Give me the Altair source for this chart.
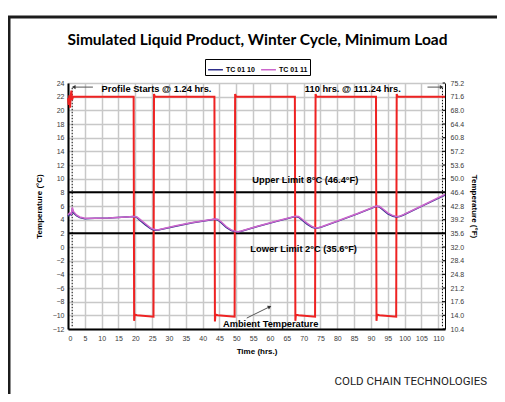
import altair as alt
import pandas as pd

# ---------------- data ----------------
prod_time = [0, 0.5, 1.0, 1.3, 1.6, 2.5, 3.5, 5, 8, 12, 16, 19.6, 20.5, 21.5, 23, 24.5, 25.5, 26.5, 27.5,
             32, 37, 43.6, 44.5, 45.5, 47, 48.5, 49.6, 50.5, 51.5, 56, 62, 67.5, 68.5, 69.5, 71, 72.5,
             73.6, 74.5, 75.5, 80, 86, 91.6, 92.5, 93.5, 95, 96.5, 97.6, 98.5, 99.5, 105, 112]
tc_01_11 = [4.7, 5.0, 4.8, 5.8, 5.2, 4.7, 4.4, 4.2, 4.2, 4.25, 4.35, 4.45, 4.4, 4.0, 3.4, 2.8, 2.6, 2.5, 2.6,
            3.1, 3.6, 4.1, 4.05, 3.7, 3.0, 2.5, 2.3, 2.25, 2.35, 3.0, 3.8, 4.5, 4.45, 4.1, 3.5, 3.0,
            2.8, 2.85, 3.0, 3.8, 4.9, 6.0, 5.95, 5.6, 5.0, 4.6, 4.45, 4.5, 4.7, 6.0, 7.7]
tc_01_10 = [4.5, 4.8, 4.7, 5.5, 5.0, 4.6, 4.3, 4.15, 4.2, 4.25, 4.35, 4.45, 4.3, 3.85, 3.25, 2.7, 2.5, 2.45, 2.55,
            3.05, 3.55, 4.05, 3.95, 3.55, 2.85, 2.4, 2.25, 2.2, 2.3, 2.95, 3.75, 4.45, 4.35, 3.95, 3.35, 2.9,
            2.75, 2.8, 2.95, 3.75, 4.85, 5.95, 5.85, 5.45, 4.85, 4.5, 4.4, 4.45, 4.65, 5.95, 7.6]

amb_time = [0, 0.2, 0.4, 0.6, 0.8, 1.0, 1.2, 1.5, 19.5, 19.65, 19.8, 20.5, 25.4, 25.55, 25.8,
            43.5, 43.65, 43.8, 44.5, 49.5, 49.65, 49.9, 67.4, 67.55, 67.7, 68.5, 73.4, 73.55, 73.8,
            91.5, 91.65, 91.8, 92.5, 97.5, 97.65, 97.9, 112]
amb_temp = [21.8, 20.8, 22.2, 20.4, 22.0, 22.9, 21.5, 22.0, 22.0, -10.8, -9.9, -10.0, -10.2, 22.4, 22.0,
            22.0, -10.9, -9.9, -10.0, -10.2, 22.4, 22.0, 22.0, -10.8, -9.9, -10.0, -10.2, 22.4, 22.0,
            22.0, -10.8, -9.9, -10.0, -10.2, 22.4, 22.0, 22.0]

limit_vals = [8, 2]
marker_times = [1.24, 111.24]

x_ticks = list(range(0, 111, 5))
c_ticks = list(range(-12, 25, 2))
f_ticks = [round(10.4 + 3.6 * i, 1) for i in range(19)]

ann_labels = ["Profile Starts @ 1.24 hrs.", "110 hrs. @ 111.24 hrs.",
              "Upper Limit 8°C (46.4°F)", "Lower Limit 2°C (35.6°F)", "Ambient Temperature"]
ann_t = [26.3, 84.6, 70.5, 70.0, 60.2]
ann_c = [23.1, 23.1, 9.8, -0.3, -11.25]

arrow_t = [7.4, 106.8, 53.1]
arrow_c = [23.4, 23.4, -10.4]
arrow_t2 = [1.7, 111.0, 59.9]
arrow_c2 = [23.4, 23.4, -8.75]
arrow_angle = [270, 90, 64]

series_names = ["TC 01 10", "TC 01 11"]
series_colors = ["#2e2e8a", "#cc66cc"]

# ---------------- tables ----------------
prod_df = pd.concat([
    pd.DataFrame({"t": prod_time, "c": tc_01_10, "s": series_names[0]}),
    pd.DataFrame({"t": prod_time, "c": tc_01_11, "s": series_names[1]}),
])
amb_df = pd.DataFrame({"t": amb_time, "c": amb_temp})
lim_df = pd.DataFrame({"c": limit_vals, "t0": [0, 0], "t1": [112, 112]})
mark_df = pd.DataFrame({"t": marker_times, "c0": [-11.6, -11.6], "c1": [23.5, 23.5]})
rtick_df = pd.DataFrame({"c": c_ticks, "t0": [111.3] * len(c_ticks), "t1": [112] * len(c_ticks)})
ann_df = pd.DataFrame({"t": ann_t, "c": ann_c, "label": ann_labels})
arr_df = pd.DataFrame({"t": arrow_t, "c": arrow_c, "t2": arrow_t2, "c2": arrow_c2, "a": arrow_angle})
f_df = pd.DataFrame({"f": [10.4, 75.2]})

W, H = 377, 246
AX_FONT = "Liberation Sans"

xs = alt.Scale(domain=[0, 112], nice=False, zero=False)
ys = alt.Scale(domain=[-12, 24], nice=False, zero=False)

x_axis = alt.Axis(values=x_ticks, title="Time (hrs.)", grid=True, gridColor="#c8c8c8", gridWidth=1.5,
                  domainColor="black", domainWidth=2, ticks=False, labelPadding=5,
                  labelFontSize=7, labelColor="#3a3a3a", labelFont=AX_FONT,
                  titleFont=AX_FONT, titleFontSize=8, titleFontWeight="bold", titlePadding=6)
y_axis = alt.Axis(values=c_ticks, title="Temperature (°C)", grid=True, gridColor="#c8c8c8", gridWidth=1.5,
                  domainColor="black", domainWidth=2, ticks=False, labelPadding=4,
                  labelFontSize=7, labelColor="#3a3a3a", labelFont=AX_FONT,
                  titleFont=AX_FONT, titleFontSize=8, titleFontWeight="bold", titlePadding=9)


def X(field):
    return alt.X(field, type="quantitative", scale=xs, axis=x_axis, title="Time (hrs.)")


def Y(field):
    return alt.Y(field, type="quantitative", scale=ys, axis=y_axis, title="Temperature (°C)")


limits = alt.Chart(lim_df).mark_rule(color="black", strokeWidth=2).encode(
    x=X("t0"), x2="t1:Q", y=Y("c"),
)

markers = alt.Chart(mark_df).mark_rule(color="black", strokeWidth=1, strokeDash=[1.5, 1.5]).encode(
    x=X("t"), y=Y("c0"), y2="c1:Q",
)

rticks = alt.Chart(rtick_df).mark_rule(color="black", strokeWidth=1).encode(
    x=X("t0"), x2="t1:Q", y=Y("c"),
)

ambient = alt.Chart(amb_df).mark_line(color="#ee2222", strokeWidth=2).encode(
    x=X("t"), y=Y("c"), order="t:Q",
)

product = alt.Chart(prod_df).mark_line(strokeWidth=1.5).encode(
    x=X("t"), y=Y("c"),
    color=alt.Color("s:N", scale=alt.Scale(domain=series_names, range=series_colors),
                    legend=alt.Legend(title=None, orient="none", legendX=137, legendY=-24,
                                      direction="horizontal", strokeColor="black", fillColor="white",
                                      padding=2, symbolType="stroke", symbolSize=220,
                                      symbolStrokeWidth=1.5, labelFont=AX_FONT, labelFontSize=7,
                                      labelFontWeight="bold", columnPadding=3, labelOffset=2)),
    order="t:Q",
)

arrows = alt.Chart(arr_df).mark_rule(color="#555", strokeWidth=1).encode(
    x=X("t"), y=Y("c"), x2="t2:Q", y2="c2:Q",
)
heads = alt.Chart(arr_df).mark_point(shape="triangle-up", filled=True, color="#333", size=18, opacity=1).encode(
    x=X("t2"), y=Y("c2"), angle=alt.Angle("a:Q", scale=None),
)

annotations = alt.Chart(ann_df).mark_text(font=AX_FONT, fontSize=9.3, fontWeight="bold", color="black").encode(
    x=X("t"), y=Y("c"), text="label:N",
)

title_df = pd.DataFrame({"txt": ["Simulated Liquid Product, Winter Cycle, Minimum Load"]})
title = alt.Chart(title_df).mark_text(font="Lato", fontSize=15.5, fontWeight="bold", color="black",
                                       baseline="middle").encode(
    x=alt.value(W / 2 + 1), y=alt.value(-43), text="txt:N")

footer_df = pd.DataFrame({"txt": ["COLD CHAIN TECHNOLOGIES"]})
footer = alt.Chart(footer_df).mark_text(font="Liberation Sans Narrow, Roboto, sans-serif",
                                         fontSize=11.5, color="#222", align="right", baseline="middle").encode(
    x=alt.value(419), y=alt.value(299), text="txt:N")

frame_df = pd.DataFrame({"k": [0]})
frame = alt.Chart(frame_df).mark_rect(fill=None, filled=False, stroke="#1c1c1c", strokeWidth=3).encode(
    x=alt.value(-59), x2=alt.value(480), y=alt.value(-66), y2=alt.value(380))

f_layer = alt.Chart(f_df).mark_point(opacity=0).encode(
    y=alt.Y("f:Q", scale=alt.Scale(domain=[10.4, 75.2], nice=False, zero=False),
            axis=alt.Axis(orient="right", values=f_ticks, format=".1f", title="Temperature (°F)",
                          grid=False, domainColor="black", domainWidth=1, ticks=False, labelPadding=5,
                          labelFontSize=7, labelColor="#3a3a3a", labelFont=AX_FONT,
                          titleFont=AX_FONT, titleFontSize=8, titleFontWeight="bold", titlePadding=6)),
)

c_layers = alt.layer(limits, markers, rticks, ambient, product, arrows, heads, annotations, title, footer, frame)
chart = alt.layer(c_layers, f_layer).resolve_scale(y="independent").properties(
    width=W, height=H,
    autosize=alt.AutoSizeParams(type="none"),
    padding={"left": 60, "top": 75, "right": 52, "bottom": 65},
    background="white",
).configure_view(stroke=None)

chart.save("out.html", embed_options={"renderer": "svg", "actions": False})
